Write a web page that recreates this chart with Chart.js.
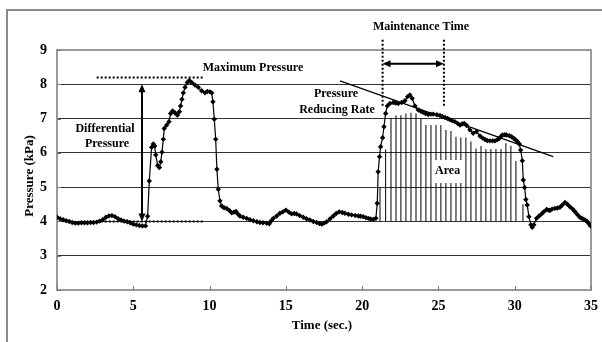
<!DOCTYPE html>
<html>
<head>
<meta charset="utf-8">
<script src="https://cdn.jsdelivr.net/npm/chart.js@4.4.1/dist/chart.umd.min.js"></script>
<style>
  html, body { margin: 0; padding: 0; background: #fff; }
</style>
</head>
<body>
<canvas id="chart" width="602" height="342"></canvas>
<script>
// measured pressure trace (sec, kPa)
const timeSec = [
  0, 0.2, 0.4, 0.6, 0.8, 1.0, 1.2, 1.4, 1.6, 1.8,
  2.0, 2.2, 2.4, 2.6, 2.8, 3.0, 3.2, 3.4, 3.6, 3.8,
  4.0, 4.2, 4.4, 4.6, 4.8, 5.0, 5.2, 5.4, 5.6, 5.8,
  5.94, 6.05, 6.2, 6.31, 6.4, 6.47, 6.6, 6.71, 6.8, 6.88,
  6.97, 7.03, 7.19, 7.34, 7.45, 7.58, 7.73, 7.89, 8.02, 8.1,
  8.19, 8.28, 8.39, 8.54, 8.67, 8.83, 9.04, 9.26, 9.48, 9.7,
  9.85, 10.03, 10.14, 10.22, 10.31, 10.4, 10.48, 10.57, 10.68, 10.79,
  10.95, 11.12, 11.3, 11.45, 11.6, 11.73, 11.85, 11.99, 12.2, 12.43,
  12.65, 12.87, 13.1, 13.3, 13.5, 13.74, 13.91, 14.05, 14.18, 14.4,
  14.61, 14.8, 15.0, 15.2, 15.38, 15.55, 15.7, 15.9, 16.14, 16.35,
  16.58, 16.8, 17.02, 17.2, 17.35, 17.5, 17.67, 17.9, 18.11, 18.3,
  18.5, 18.7, 18.87, 19.1, 19.31, 19.55, 19.75, 19.9, 20.07, 20.25,
  20.4, 20.55, 20.73, 20.9, 20.99, 21.05, 21.14, 21.21, 21.34, 21.43,
  21.54, 21.65, 21.82, 22.04, 22.2, 22.37, 22.59, 22.8, 22.98, 23.13,
  23.28, 23.46, 23.68, 23.85, 24.0, 24.15, 24.33, 24.5, 24.66, 24.9,
  25.1, 25.25, 25.43, 25.6, 25.75, 25.9, 26.08, 26.25, 26.41, 26.55,
  26.69, 26.85, 27.06, 27.28, 27.5, 27.72, 27.9, 28.05, 28.2, 28.37,
  28.55, 28.7, 28.85, 28.98, 29.1, 29.2, 29.35, 29.47, 29.65, 29.8,
  29.95, 30.08, 30.2, 30.3, 30.39, 30.5, 30.56, 30.65, 30.73, 30.82,
  30.93, 31.06, 31.15, 31.25, 31.43, 31.6, 31.76, 31.9, 32.09, 32.2,
  32.31, 32.45, 32.63, 32.8, 32.96, 33.1, 33.29, 33.45, 33.62, 33.8,
  33.94, 34.1, 34.27, 34.4, 34.53, 34.65, 34.75, 34.87, 34.97
];
const pressure = [
  4.12, 4.08, 4.05, 4.02, 4.0, 3.97, 3.95, 3.95, 3.96, 3.96,
  3.96, 3.97, 3.97, 3.98, 4.01, 4.05, 4.12, 4.16, 4.17, 4.14,
  4.08, 4.04, 4.01, 3.99, 3.96, 3.92, 3.9, 3.88, 3.87, 3.87,
  4.15, 5.18, 6.16, 6.26, 6.2, 5.94, 5.63, 5.57, 5.74, 6.02,
  6.4, 6.71, 6.81, 6.91, 7.15, 7.22, 7.17, 7.1, 7.2, 7.37,
  7.56, 7.75, 7.91, 8.05, 8.11, 8.05, 7.98, 7.91, 7.81, 7.75,
  7.79, 7.78, 7.75, 7.49, 6.98, 6.4, 5.52, 4.94, 4.6, 4.45,
  4.4, 4.38, 4.32, 4.25, 4.27, 4.29, 4.22, 4.16, 4.12, 4.09,
  4.05, 4.02, 3.99, 3.97, 3.96, 3.95, 3.93, 4.02, 4.09, 4.16,
  4.24, 4.28, 4.33, 4.27, 4.22, 4.23, 4.22, 4.17, 4.12, 4.08,
  4.04, 4.0, 3.97, 3.94, 3.92, 3.95, 3.99, 4.08, 4.16, 4.23,
  4.28, 4.26, 4.24, 4.21, 4.19, 4.17, 4.16, 4.15, 4.14, 4.11,
  4.09, 4.07, 4.06, 4.09, 4.53, 5.45, 5.89, 6.18, 6.44, 6.76,
  7.15, 7.37, 7.44, 7.47, 7.45, 7.44, 7.47, 7.52, 7.64, 7.69,
  7.59, 7.37, 7.25, 7.21, 7.18, 7.15, 7.12, 7.13, 7.13, 7.11,
  7.09, 7.06, 7.03, 7.0, 6.97, 6.94, 6.91, 6.86, 6.81, 6.84,
  6.86, 6.8, 6.67, 6.57, 6.62, 6.49, 6.43, 6.39, 6.36, 6.35,
  6.35, 6.35, 6.38, 6.42, 6.48, 6.52, 6.53, 6.52, 6.5, 6.47,
  6.42, 6.37, 6.32, 6.26, 6.08, 5.77, 5.21, 4.99, 4.64, 4.48,
  4.14, 3.9, 3.83, 3.9, 4.09, 4.16, 4.22, 4.28, 4.35, 4.33,
  4.32, 4.36, 4.38, 4.39, 4.41, 4.47, 4.55, 4.5, 4.43, 4.36,
  4.29, 4.2, 4.12, 4.09, 4.06, 4.03, 3.99, 3.93, 3.87
];

// hatching under the second pulse ("Area")
const areaBase = 4;
const areaTime = [
  21.17, 21.54, 21.89, 22.22, 22.54, 22.87, 23.2, 23.53, 23.85, 24.18,
  24.51, 24.84, 25.16, 25.49, 25.82, 26.15, 26.47, 26.8, 27.13, 27.46,
  27.79, 28.11, 28.44, 28.77, 29.1, 29.42, 29.75, 30.08, 30.54
];
const areaTop = [
  5.0, 6.1, 7.0, 7.1, 7.1, 7.15, 7.17, 7.15, 6.99, 6.81,
  6.81, 6.81, 6.81, 6.67, 6.64, 6.47, 6.45, 6.45, 6.33, 6.13,
  6.2, 6.11, 6.11, 6.11, 6.11, 6.28, 6.2, 5.76, 4.5
];

// pressure reducing rate line
const trendTime = [18.55, 32.52];
const trendValue = [8.1, 5.89];

const xTicks = [0, 5, 10, 15, 20, 25, 30, 35];
const yTicks = [2, 3, 4, 5, 6, 7, 8, 9];

// annotation anchors (data units)
const maxPressure = 8.2;
const basePressure = 4.0;
const guideFrom = 2.6;
const guideTo = 9.55;
const diffAt = 5.57;
const holdStart = 21.34;
const holdEnd = 25.36;

const FONT = '"Liberation Serif", "Times New Roman", serif';

function arrowHead(c, x, y, a) {
  const L = 8, W = 3.5;
  c.beginPath();
  c.moveTo(x, y);
  c.lineTo(x - L * Math.cos(a) + W * Math.sin(a), y - L * Math.sin(a) - W * Math.cos(a));
  c.lineTo(x - L * Math.cos(a) - W * Math.sin(a), y - L * Math.sin(a) + W * Math.cos(a));
  c.closePath();
  c.fill();
}

function doubleArrow(c, x1, y1, x2, y2) {
  const a = Math.atan2(y2 - y1, x2 - x1);
  c.beginPath();
  c.moveTo(x1 + 4 * Math.cos(a), y1 + 4 * Math.sin(a));
  c.lineTo(x2 - 4 * Math.cos(a), y2 - 4 * Math.sin(a));
  c.stroke();
  arrowHead(c, x2, y2, a);
  arrowHead(c, x1, y1, a + Math.PI);
}

function dotted(c, x1, y1, x2, y2) {
  c.save();
  c.setLineDash([2, 2]);
  c.lineWidth = 2;
  c.beginPath();
  c.moveTo(x1, y1);
  c.lineTo(x2, y2);
  c.stroke();
  c.restore();
}

const notes = {
  id: 'notes',
  beforeDraw(chart) {
    const c = chart.ctx;
    c.save();
    c.fillStyle = '#fff';
    c.fillRect(0, 0, chart.width, chart.height);
    c.strokeStyle = '#8a8a8a';
    c.lineWidth = 2;
    c.beginPath();
    c.moveTo(7, chart.height);
    c.lineTo(7, 10);
    c.lineTo(chart.width, 10);
    c.stroke();
    c.restore();
  },
  beforeDatasetsDraw(chart) {
    const c = chart.ctx;
    const { left, top, right, bottom } = chart.chartArea;
    const x = chart.scales.x, y = chart.scales.y;
    c.save();
    c.strokeStyle = '#9a9a9a';
    c.lineWidth = 2;
    c.strokeRect(left, top, right - left, bottom - top);
    c.lineWidth = 1;
    c.strokeStyle = '#777';
    c.beginPath();
    xTicks.forEach(t => {
      const px = Math.round(x.getPixelForValue(t)) + 0.5;
      c.moveTo(px, bottom); c.lineTo(px, bottom - 4);
    });
    yTicks.forEach(v => {
      const py = Math.round(y.getPixelForValue(v)) + 0.5;
      c.moveTo(left, py); c.lineTo(left + 4, py);
    });
    c.stroke();
    c.restore();
  },
  afterDatasetsDraw(chart) {
    const c = chart.ctx;
    const x = chart.scales.x, y = chart.scales.y;
    const X = v => x.getPixelForValue(v), Y = v => y.getPixelForValue(v);
    c.save();
    c.strokeStyle = '#000';
    c.fillStyle = '#000';

    // maximum / base pressure guides
    dotted(c, X(guideFrom), Y(maxPressure), X(guideTo), Y(maxPressure));
    dotted(c, X(guideFrom), Y(basePressure), X(guideTo), Y(basePressure));

    // differential pressure arrow
    c.lineWidth = 2;
    doubleArrow(c, X(diffAt), Y(basePressure), X(diffAt), Y(8.0));

    // maintenance time
    dotted(c, X(holdStart), Y(9.3), X(holdStart), Y(7.35));
    dotted(c, X(holdEnd), Y(9.3), X(holdEnd), Y(7.35));
    c.lineWidth = 2;
    doubleArrow(c, X(holdStart), Y(8.6), X(holdEnd), Y(8.6));

    // area label
    c.fillStyle = '#fff';
    c.fillRect(X(24.57), Y(5.79), X(26.6) - X(24.57), Y(5.12) - Y(5.79));

    c.fillStyle = '#000';
    c.font = 'bold 12px ' + FONT;
    c.textAlign = 'center';
    c.textBaseline = 'middle';
    c.fillText('Area', X(25.6), Y(5.47));
    c.fillText('Maximum Pressure', 253, 68);
    c.fillText('Maintenance Time', 421, 27);
    c.fillText('Differential', 105, 129);
    c.fillText('Pressure', 107, 144);
    c.fillText('Pressure', 336, 94);
    c.fillText('Reducing Rate', 337, 110);

    // axis titles
    c.font = 'bold 13px ' + FONT;
    c.fillText('Time (sec.)', 322, 326);
    c.translate(30, 176);
    c.rotate(-Math.PI / 2);
    c.fillText('Pressure (kPa)', 0, 0);
    c.restore();
  }
};

const ctx = document.getElementById('chart').getContext('2d');
new Chart(ctx, {
  type: 'line',
  data: {
    datasets: [
      {
        type: 'line',
        data: timeSec.map((t, i) => ({ x: t, y: pressure[i] })),
        borderColor: '#000',
        borderWidth: 1.2,
        backgroundColor: '#000',
        pointStyle: 'rectRot',
        pointRadius: 2.7,
        pointBorderWidth: 0,
        tension: 0,
        order: 0,
      },
      {
        type: 'line',
        data: trendTime.map((t, i) => ({ x: t, y: trendValue[i] })),
        borderColor: '#000',
        borderWidth: 1.2,
        pointRadius: 0,
        order: 0,
      },
      {
        type: 'bar',
        data: areaTime.map((t, i) => ({ x: t, y: [areaBase, areaTop[i]] })),
        backgroundColor: '#000',
        borderWidth: 0,
        barThickness: 1,
        inflateAmount: 0,
        order: 1,
      },
    ],
  },
  options: {
    responsive: false,
    animation: false,
    devicePixelRatio: 1,
    layout: { padding: { left: 0, top: 50, right: 11, bottom: 0 } },
    plugins: {
      legend: { display: false },
      tooltip: { enabled: false },
    },
    scales: {
      x: {
        type: 'linear',
        min: 0,
        max: 35,
        offset: false,
        afterBuildTicks: s => { s.ticks = xTicks.map(v => ({ value: v })); },
        afterFit: s => { s.height = 52; },
        grid: { display: false },
        border: { display: false },
        ticks: {
          color: '#000',
          padding: 0,
          maxRotation: 0,
          font: { family: FONT, size: 14, weight: 'bold' },
        },
      },
      y: {
        min: 2,
        max: 9,
        afterBuildTicks: s => { s.ticks = yTicks.map(v => ({ value: v })); },
        afterFit: s => { s.width = 57; },
        grid: {
          drawTicks: false,
          color: c => (c.tick && (c.tick.value === 2 || c.tick.value === 9)) ? 'rgba(0,0,0,0)' : '#333',
          lineWidth: 1,
        },
        border: { display: false },
        ticks: {
          color: '#000',
          padding: 10,
          font: { family: FONT, size: 14, weight: 'bold' },
        },
      },
    },
  },
  plugins: [notes],
});
</script>
</body>
</html>
